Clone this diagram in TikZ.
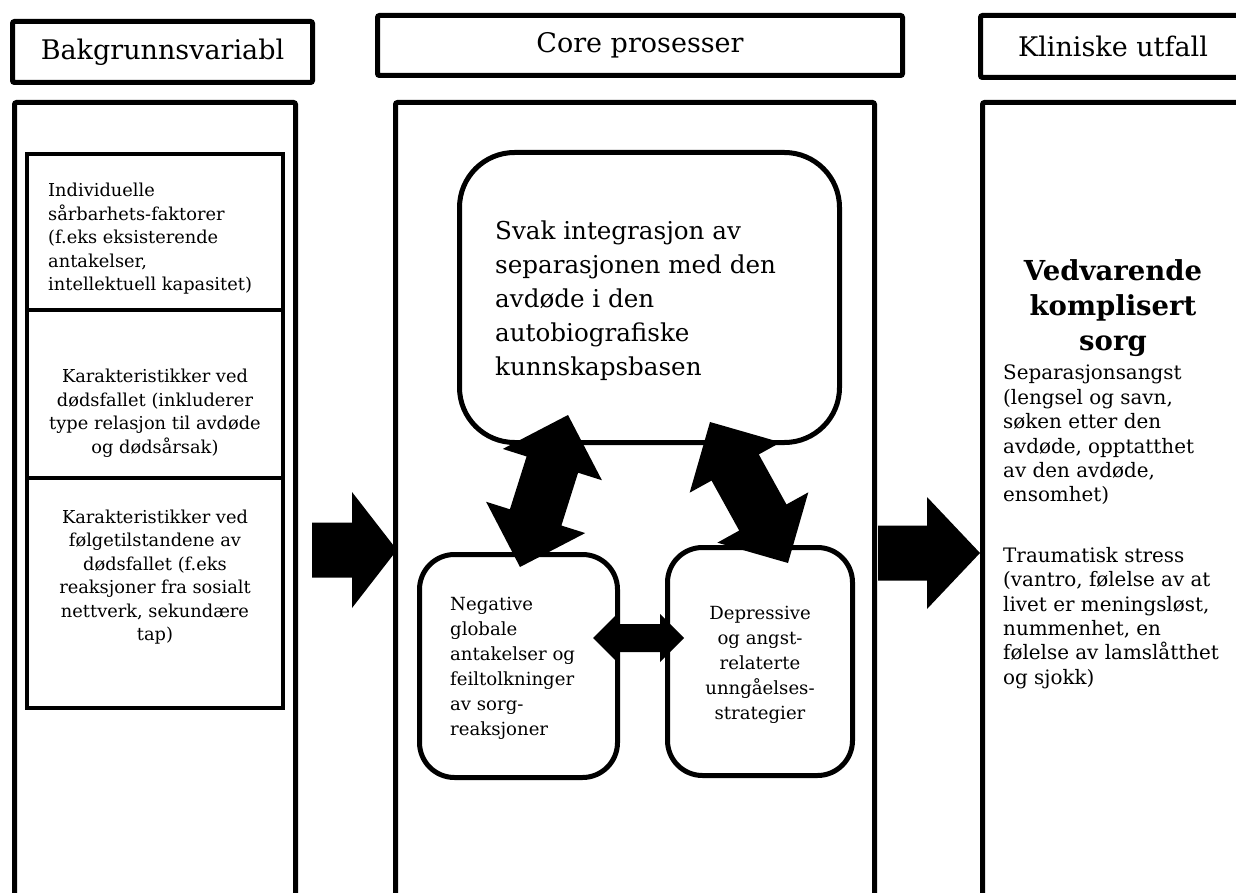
\documentclass[tikz,border=0pt]{standalone}
\usepackage{fontspec}
\setmainfont{DejaVu Serif}
\usetikzlibrary{calc}
\newcommand{\hdrfont}{\fontsize{27}{30}\selectfont}
\newcommand{\bigfont}{\fontsize{24.6}{34}\selectfont}
\newcommand{\cellfont}{\fontsize{17.8}{23.5}\selectfont}
\newcommand{\boxfont}{\fontsize{18.1}{25}\selectfont}
\newcommand{\sidefont}{\fontsize{19.9}{24.4}\selectfont}
\newcommand{\titlefont}{\fontsize{27.5}{35}\selectfont\bfseries}
% block arrows: from, to, shaft half width, head length, head half width
\newcommand{\dblarrow}[5]{%
  \path ($(#1)!#4!(#2)$) coordinate (ba) ($(#2)!#4!(#1)$) coordinate (bb);
  \fill (#1) -- ($(ba)!#5!90:(#2)$) -- ($(ba)!#3!90:(#2)$)
    -- ($(bb)!#3!-90:(#1)$) -- ($(bb)!#5!-90:(#1)$) -- (#2)
    -- ($(bb)!#5!90:(#1)$) -- ($(bb)!#3!90:(#1)$)
    -- ($(ba)!#3!-90:(#2)$) -- ($(ba)!#5!-90:(#2)$) -- cycle;}
\newcommand{\onearrow}[5]{%
  \path ($(#2)!#4!(#1)$) coordinate (hb);
  \fill ($(#1)!#3!90:(#2)$) -- ($(hb)!#3!-90:(#1)$) -- ($(hb)!#5!-90:(#1)$)
    -- (#2) -- ($(hb)!#5!90:(#1)$) -- ($(hb)!#3!90:(#1)$)
    -- ($(#1)!#3!-90:(#2)$) -- cycle;}

\begin{document}
\begin{tikzpicture}[x=1pt,y=-1pt,
  frame/.style={draw,line width=5pt,rounded corners=2pt,inner sep=0pt},
  cell/.style={draw,line width=4pt,inner sep=0pt,minimum width=256pt},
  roundbox/.style={draw,line width=5pt,inner sep=0pt,rounded corners=#1},
  lefttext/.style={inner sep=0pt,align=left,anchor=west},
  midtext/.style={inner sep=0pt,align=center}]
\useasboundingbox (0,0) rectangle (1236,893);
% headers
\node[frame,minimum width=300pt,minimum height=61pt,font=\hdrfont] (hdrbak) at (162.5,52) {Bakgrunnsvariabl};
\node[frame,minimum width=525pt,minimum height=60pt,font=\hdrfont] (hdrcore) at (640,45.5) {Core prosesser};
\node[frame,minimum width=265pt,minimum height=62pt,font=\hdrfont] (hdrklin) at (1113,46.5) {Kliniske utfall};
% columns
\node[frame,minimum width=281pt,minimum height=900pt] (colbak) at (155,552.5) {};
\node[frame,minimum width=479pt,minimum height=900pt] (colcore) at (635,552.5) {};
\node[frame,minimum width=261pt,minimum height=900pt] (colklin) at (1113,552.5) {};
% background variables
\node[cell,minimum height=156pt] (indiv) at (155,232) {};
\node[cell,minimum height=168pt] (doed) at (155,394) {};
\node[cell,minimum height=230pt] (folg) at (155,593) {};
\node[lefttext,font=\cellfont] (indivtxt) at (48,239) {Individuelle\\sårbarhets-faktorer\\(f.eks eksisterende\\antakelser,\\intellektuell kapasitet)};
\node[midtext,font=\cellfont] (doedtxt) at (155,413) {Karakteristikker ved\\dødsfallet (inkluderer\\type relasjon til avdøde\\og dødsårsak)};
\node[midtext,font=\cellfont] (folgtxt) at (155,577) {Karakteristikker ved\\følgetilstandene av\\dødsfallet (f.eks\\reaksjoner fra sosialt\\nettverk, sekundære\\tap)};
% core processes
\node[roundbox=55pt,minimum width=380pt,minimum height=290pt] (svak) at (649.5,297.5) {};
\node[lefttext,font=\bigfont] (svaktxt) at (495,301) {Svak integrasjon av\\separasjonen med den\\avdøde i den\\autobiografiske\\kunnskapsbasen};
\node[roundbox=35pt,minimum width=198pt,minimum height=223pt] (neg) at (518.5,666) {};
\node[lefttext,font=\boxfont] (negtxt) at (450,668) {Negative\\globale\\antakelser og\\feiltolkninger\\av sorg-\\reaksjoner};
\node[roundbox=35pt,minimum width=185pt,minimum height=228pt] (dep) at (760,661.5) {};
\node[midtext,font=\boxfont] (deptxt) at (760,665) {Depressive\\og angst-\\relaterte\\unngåelses-\\strategier};
% clinical outcomes
\node[midtext,font=\titlefont] (sorg) at (1113,308) {Vedvarende\\komplisert\\sorg};
\node[lefttext,font=\sidefont] (septxt) at (1003,435) {Separasjonsangst\\(lengsel og savn,\\søken etter den\\avdøde, opptatthet\\av den avdøde,\\ensomhet)};
\node[lefttext,font=\sidefont] (traumtxt) at (1003,618) {Traumatisk stress\\(vantro, følelse av at\\livet er meningsløst,\\nummenhet, en\\følelse av lamslåtthet\\og sjokk)};
% arrow ends
\coordinate (svakL) at (568,415);
\coordinate (negT) at (520,567);
\coordinate (svakR) at (710,422);
\coordinate (depT) at (788,563);
\coordinate (negR) at (593,638);
\coordinate (depL) at (684,638);
\coordinate (bakout) at (312,550);
\coordinate (corein) at (397,550);
\coordinate (coreout) at (878,553);
\coordinate (klinin) at (980,553);
\dblarrow{svakL}{negT}{27pt}{52pt}{52pt}
\dblarrow{svakR}{depT}{27pt}{52pt}{52pt}
\dblarrow{negR}{depL}{14pt}{24pt}{24pt}
\onearrow{bakout}{corein}{27.5pt}{45pt}{58pt}
\onearrow{coreout}{klinin}{27.5pt}{53pt}{56pt}
\end{tikzpicture}
\end{document}
